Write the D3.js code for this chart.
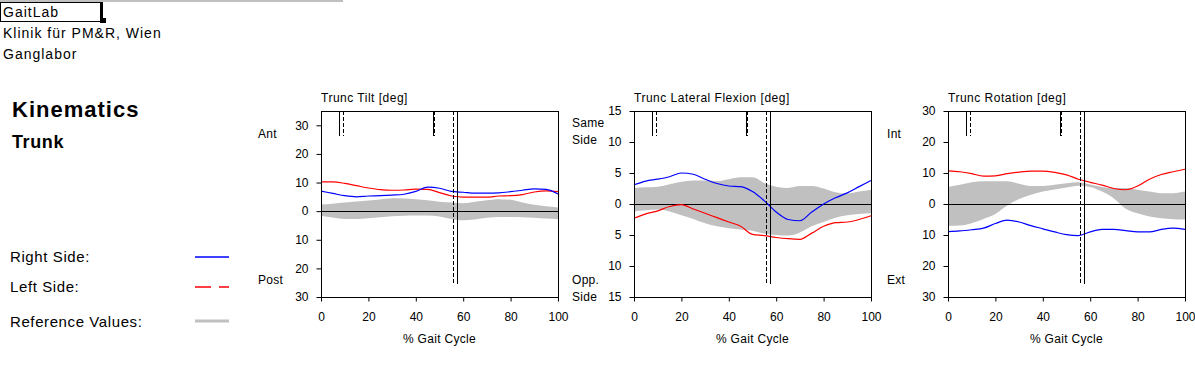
<!DOCTYPE html>
<html>
<head>
<meta charset="utf-8">
<script src="https://cdn.jsdelivr.net/npm/d3@7"></script>
<style>
  body { margin: 0; background: #fff; }
  svg { display: block; font-family: "Liberation Sans", Arial, sans-serif; }
  .tick text { font-size: 12px; fill: #000; }
  .tick line { stroke: #000; }
</style>
</head>
<body>
<svg id="chart" width="1195" height="375"></svg>
<script>
// % gait cycle sample points
const percent = [0,5,10,15,20,25,30,35,40,45,50,55,60,65,70,75,80,85,90,95,100];

// trunk tilt
const tiltRight = [7.0,6.2,5.4,5.0,5.3,5.4,5.6,5.9,6.9,8.4,8.0,6.9,6.6,6.3,6.3,6.4,6.8,7.3,7.8,7.6,6.0];
const tiltLeft  = [10.2,10.2,9.7,8.9,8.1,7.5,7.3,7.4,7.7,7.6,6.5,5.3,4.9,4.9,4.9,5.3,5.4,5.8,6.7,7.1,6.8];
const tiltRefUpper = [2.3,2.6,3.0,3.4,3.7,4.1,4.5,4.4,4.2,3.8,3.3,3.0,2.8,3.3,3.8,4.2,4.0,3.0,2.2,1.7,1.3];
const tiltRefLower = [-1.6,-2.2,-2.7,-2.7,-2.5,-2.1,-1.8,-1.6,-1.5,-1.5,-1.9,-2.7,-3.2,-2.9,-2.3,-2.0,-2.0,-2.1,-2.3,-2.6,-2.8];

// trunk lateral flexion
const flexRight = [3.1,3.7,4.0,4.4,5.0,4.8,4.0,3.3,2.9,2.8,2.0,0.5,-1.3,-2.5,-2.7,-1.3,0.0,1.0,1.8,2.8,3.8];
const flexLeft  = [-2.3,-1.6,-1.1,-0.4,-0.1,-0.8,-1.5,-2.2,-2.9,-3.6,-4.9,-5.1,-5.4,-5.6,-5.7,-4.7,-3.6,-3.0,-2.9,-2.5,-1.9];
const flexRefUpper = [2.6,2.7,2.8,3.2,3.6,3.8,3.8,3.7,4.0,4.3,4.3,3.4,2.8,2.6,2.9,2.9,2.5,1.9,1.7,2.0,2.3];
const flexRefLower = [-1.2,-1.0,-0.9,-1.2,-1.8,-2.4,-3.1,-3.6,-3.9,-4.1,-4.3,-4.8,-5.0,-5.1,-4.6,-3.6,-2.9,-2.2,-1.8,-1.6,-1.5];

// trunk rotation
const rotRight = [-8.9,-8.7,-8.3,-7.8,-6.3,-5.2,-5.8,-7.0,-8.0,-9.0,-9.9,-10.2,-9.0,-8.2,-8.2,-8.6,-9.0,-9.0,-8.2,-7.8,-8.2];
const rotLeft  = [10.7,10.4,9.8,9.0,9.1,9.8,10.3,10.6,10.6,10.2,9.4,8.0,7.0,6.1,5.0,4.6,5.8,8.0,9.5,10.4,11.2];
const rotRefUpper = [5.5,6.2,7.0,7.3,7.3,7.3,6.5,5.8,5.8,6.2,6.7,7.0,6.3,5.5,5.2,5.2,4.6,4.0,3.5,3.5,4.0];
const rotRefLower = [-7.0,-6.9,-6.2,-4.8,-3.2,-0.5,1.6,3.0,4.0,4.7,5.3,5.9,5.5,4.0,1.8,-1.5,-3.0,-4.0,-4.6,-4.9,-5.0];

// gait events (% cycle)
const rightEvents = {oppFootOff: 7.7, oppFootContact: 47.1, footOff: 57.3};
const leftEvents  = {oppFootOff: 9.4, oppFootContact: 47.5, footOff: 55.5};

const xTicks = [0,20,40,60,80,100];

const panels = [
  {title: "Trunc Tilt [deg]", left: 321, domain: [-30,35], ticks: [-30,-20,-10,0,10,20,30],
   right: tiltRight, leftSide: tiltLeft, upper: tiltRefUpper, lower: tiltRefLower,
   topLabel: ["Ant"], bottomLabel: ["Post"], labelX: 258},
  {title: "Trunc Lateral Flexion [deg]", left: 634, domain: [-15,15], ticks: [-15,-10,-5,0,5,10,15],
   right: flexRight, leftSide: flexLeft, upper: flexRefUpper, lower: flexRefLower,
   topLabel: ["Same","Side"], bottomLabel: ["Opp.","Side"], labelX: 572},
  {title: "Trunc Rotation [deg]", left: 948, domain: [-30,30], ticks: [-30,-20,-10,0,10,20,30],
   right: rotRight, leftSide: rotLeft, upper: rotRefUpper, lower: rotRefLower,
   topLabel: ["Int"], bottomLabel: ["Ext"], labelX: 887}
];

const plotW = 237, plotTop = 111, plotBottom = 297;
const svg = d3.select("#chart");

// header
svg.append("line").attr("x1",0).attr("x2",343).attr("y1",1).attr("y2",1)
   .attr("stroke","#c0c0c0").attr("stroke-width",2);
svg.append("rect").attr("x",0.5).attr("y",2.5).attr("width",101).attr("height",19)
   .attr("fill","none").attr("stroke","#000").attr("shape-rendering","crispEdges");
svg.append("rect").attr("x",100).attr("y",2).attr("width",3).attr("height",19).attr("fill","#000");
svg.append("rect").attr("x",100).attr("y",18).attr("width",6).attr("height",5).attr("fill","#000");

const header = [["GaitLab",17],["Klinik für PM&R, Wien",38],["Ganglabor",59]];
header.forEach(h => {
  svg.append("text").attr("x",3).attr("y",h[1]).text(h[0])
     .style("font-size","14px").style("letter-spacing","1px");
});

svg.append("text").attr("x",12).attr("y",117).text("Kinematics")
   .style("font-size","22px").style("font-weight","bold").style("letter-spacing","1px");
svg.append("text").attr("x",12).attr("y",148).text("Trunk")
   .style("font-size","18px").style("font-weight","bold").style("letter-spacing","0.6px");

// legend
const legendRows = [
  {label: "Right Side:", y: 262, lineY: 257, color: "#0000ff", dash: null, width: 1.3},
  {label: "Left Side:", y: 292, lineY: 287, color: "#ff0000", dash: "16,8", width: 1.3},
  {label: "Reference Values:", y: 327, lineY: 321, color: "#c0c0c0", dash: null, width: 3}
];
legendRows.forEach(r => {
  svg.append("text").attr("x",10).attr("y",r.y).text(r.label)
     .style("font-size","15px").style("letter-spacing","0.6px");
  svg.append("path").attr("d", d3.line()([[195, r.lineY], [229, r.lineY]]))
     .attr("fill","none").attr("stroke",r.color).attr("stroke-width",r.width)
     .attr("stroke-dasharray",r.dash);
});

panels.forEach(p => {
  const x = d3.scaleLinear().domain([0,100]).range([p.left, p.left + plotW]);
  const y = d3.scaleLinear().domain(p.domain).range([plotBottom, plotTop]);
  const g = svg.append("g");

  const band = percent.map((d,i) => ({pct: d, lo: p.lower[i], hi: p.upper[i]}));
  g.append("path").datum(band)
   .attr("fill","#c0c0c0")
   .attr("d", d3.area().x(d => x(d.pct)).y0(d => y(d.lo)).y1(d => y(d.hi)).curve(d3.curveMonotoneX));

  g.append("line").attr("x1",x(0)).attr("x2",x(100)).attr("y1",y(0)).attr("y2",y(0))
   .attr("stroke","#000").attr("shape-rendering","crispEdges");

  const line = d3.line().x((d,i) => x(percent[i])).y(d => y(d)).curve(d3.curveMonotoneX);
  g.append("path").datum(p.leftSide).attr("fill","none").attr("stroke","#ff0000")
   .attr("stroke-width",1.2).attr("d",line);
  g.append("path").datum(p.right).attr("fill","none").attr("stroke","#0000ff")
   .attr("stroke-width",1.2).attr("d",line);

  // gait events
  const h = plotBottom - plotTop;
  const eventLines = [
    {pct: rightEvents.oppFootOff, len: 25, dash: null},
    {pct: rightEvents.oppFootContact, len: 25, dash: null},
    {pct: rightEvents.footOff, len: h - 13, dash: null},
    {pct: leftEvents.oppFootOff, len: 25, dash: "4,2"},
    {pct: leftEvents.oppFootContact, len: 25, dash: "4,2"},
    {pct: leftEvents.footOff, len: h - 13, dash: "4,2"}
  ];
  g.selectAll(".event").data(eventLines).enter().append("line")
   .attr("x1", d => Math.round(x(d.pct)) + 0.5).attr("x2", d => Math.round(x(d.pct)) + 0.5)
   .attr("y1", plotTop).attr("y2", d => plotTop + d.len)
   .attr("stroke","#000").attr("stroke-dasharray", d => d.dash);

  // box
  g.append("rect").attr("x",p.left + 0.5).attr("y",plotTop + 0.5)
   .attr("width",plotW).attr("height",h)
   .attr("fill","none").attr("stroke","#000");

  // axes
  const yAxis = d3.axisLeft(y).tickValues(p.ticks).tickSize(5).tickPadding(8)
                  .tickFormat(d => Math.abs(d));
  svg.append("g").attr("transform",`translate(${p.left + 0.5},0)`).call(yAxis)
     .call(a => a.select(".domain").remove());
  const xAxis = d3.axisBottom(x).tickValues(xTicks).tickSize(4).tickPadding(11);
  svg.append("g").attr("transform",`translate(0,${plotBottom + 0.5})`).call(xAxis)
     .call(a => a.select(".domain").remove());

  svg.append("text").attr("x",p.left).attr("y",102).text(p.title)
     .style("font-size","12px").style("letter-spacing","0.5px");
  svg.append("text").attr("x",x(50)).attr("y",343).attr("text-anchor","middle").text("% Gait Cycle")
     .style("font-size","12px").style("letter-spacing","0.3px");

  p.topLabel.forEach((t,i) => {
    svg.append("text").attr("x",p.labelX).attr("y",(p.topLabel.length > 1 ? 127 : 138) + i*17)
       .text(t).style("font-size","12px").style("letter-spacing","0.3px");
  });
  p.bottomLabel.forEach((t,i) => {
    svg.append("text").attr("x",p.labelX).attr("y",284 + i*17)
       .text(t).style("font-size","12px").style("letter-spacing","0.3px");
  });
});
</script>
</body>
</html>
